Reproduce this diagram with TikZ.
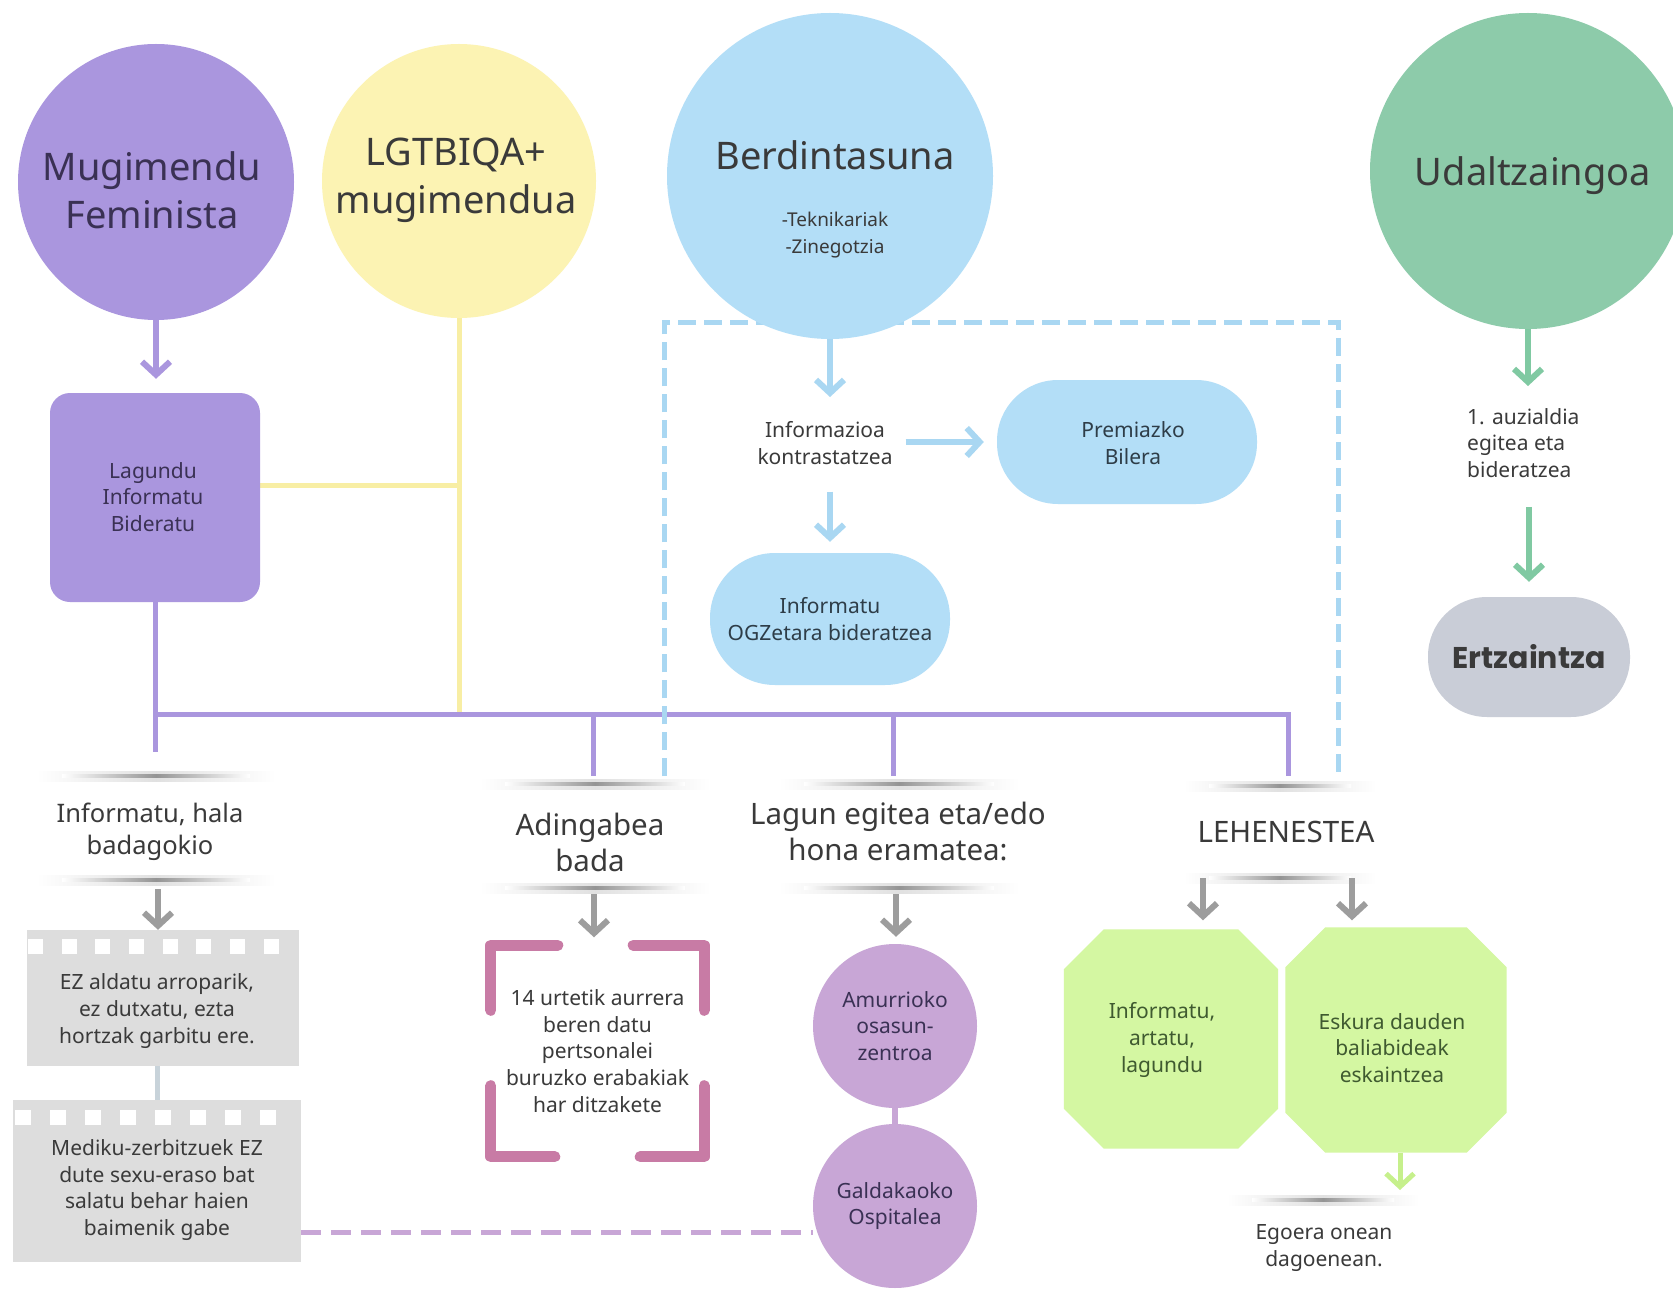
\documentclass[tikz,border=0pt]{standalone}
\usepackage{fontspec}
\setmainfont{Noto Sans}
\newfontfamily\geofont{Poppins}
\usetikzlibrary{arrows.meta,calc}
\pgfdeclarelayer{bottom}
\pgfdeclarelayer{background}
\pgfsetlayers{bottom,background,main}

\definecolor{cpur}{HTML}{AA96DE}
\definecolor{cpurtext}{HTML}{3A3154}
\definecolor{cyel}{HTML}{FCF3B3}
\definecolor{cyelline}{HTML}{F8EEA4}
\definecolor{cblue}{HTML}{B3DEF7}
\definecolor{cblueline}{HTML}{A9D7F2}
\definecolor{cgreen}{HTML}{8DCBAA}
\definecolor{cgreenarr}{HTML}{80C9A2}
\definecolor{cert}{HTML}{C9CDD7}
\definecolor{cgrayarr}{HTML}{9D9D9D}
\definecolor{cfilm}{HTML}{DDDDDD}
\definecolor{cconn}{HTML}{C8D3DA}
\definecolor{cpink}{HTML}{C87BA5}
\definecolor{clpur}{HTML}{C8A6D6}
\definecolor{clime}{HTML}{D4F7A2}
\definecolor{climearr}{HTML}{C6F08C}
\definecolor{cdark}{HTML}{3A3A3A}
\definecolor{cgtext}{HTML}{3F5A30}
\definecolor{cbtext}{HTML}{2E3D48}

\newcommand\hdrline[3]{%
  \shade[left color=white,right color=white,middle color=black!12] (#1,#3-5) rectangle (#2,#3+5);
  \shade[left color=white,right color=white,middle color=black!42] (#1+25,#3-1.5) rectangle (#2-25,#3+1.5);}
\newcommand\octfill[2]{%
  \fill[clime] ($(#1.north west)+(#2,0)$) -- ($(#1.north east)+(-#2,0)$) -- ($(#1.north east)+(0,#2)$) -- ($(#1.south east)+(0,-#2)$) -- ($(#1.south east)+(-#2,0)$) -- ($(#1.south west)+(#2,0)$) -- ($(#1.south west)+(0,-#2)$) -- ($(#1.north west)+(0,#2)$) -- cycle;}

\begin{document}
\begin{tikzpicture}[x=1pt,y=-1pt,
  txt/.style={text=cdark,align=center,inner sep=0pt},
  bigtxt/.style={txt,font=\fontsize{38}{48}\selectfont},
  smalltxt/.style={txt,font=\fontsize{21}{26.7}\selectfont},
  headtxt/.style={txt,font=\fontsize{29.5}{36}\selectfont},
  medtxt/.style={txt,font=\fontsize{25.5}{32}\selectfont},
  bigcirc/.style={circle,inner sep=0pt,draw=none},
  tipped/.style={line width=6pt,-{Straight Barb[length=13pt,width=28pt]}},
  parrow/.style={tipped,draw=cpur},
  barrow/.style={tipped,draw=cblueline},
  garrow/.style={tipped,draw=cgreenarr},
  grarrow/.style={tipped,draw=cgrayarr},
  larrow/.style={tipped,draw=climearr,line width=5pt},
  pline/.style={draw=cpur,line width=5pt},
  yline/.style={draw=cyelline,line width=5pt},
  bdash/.style={draw=cblueline,line width=5pt,dash pattern=on 18pt off 8pt},
  pdash/.style={draw=clpur,line width=5pt,dash pattern=on 20pt off 10pt},
  bracket/.style={draw=cpink,line width=11pt,line cap=round,line join=round},
]
\useasboundingbox (0,0) rectangle (1673,1289);
\begin{pgfonlayer}{bottom}
  \fill[white] (0,0) rectangle (1673,1289);
\end{pgfonlayer}

% ---- top circles
\node[bigcirc,fill=cpur,minimum size=276pt] (mf) at (156,182) {};
\node[bigtxt,text=cpurtext] (mft) at (152,190) {Mugimendu\\Feminista};
\node[bigcirc,fill=cyel,minimum size=274pt] (lg) at (459,181) {};
\node[bigtxt] (lgt) at (456,180) {LGTBIQA+\\mugimendua};
\node[bigcirc,fill=cblue,minimum size=326pt] (be) at (830,176) {};
\node[bigtxt] (bet) at (835,155) {Berdintasuna};
\node[txt,font=\fontsize{19}{27}\selectfont] (bes) at (835,235) {-Teknikariak\\-Zinegotzia};
\node[bigcirc,fill=cgreen,minimum size=316pt] (ud) at (1528,171) {};
\node[bigtxt] (udt) at (1533,176) {Udaltzaingoa};

% ---- middle
\node[rectangle,rounded corners=20pt,fill=cpur,minimum width=210pt,minimum height=209pt,inner sep=0pt] (lag) at (155,497.5) {};
\node[smalltxt,text=cpurtext] (lagt) at (153,497) {Lagundu\\Informatu\\Bideratu};
\node[smalltxt] (inf) at (825,443) {Informazioa\\kontrastatzea};
\node[rectangle,rounded corners=61pt,fill=cblue,minimum width=260pt,minimum height=124pt,inner sep=0pt] (pre) at (1127,442) {};
\node[smalltxt,text=cbtext] (pret) at (1133,443) {Premiazko\\Bilera};
\node[rectangle,rounded corners=65pt,fill=cblue,minimum width=240pt,minimum height=132pt,smalltxt,text=cbtext] (ogz) at (830,619) {Informatu\\OGZetara bideratzea};
\node[smalltxt,align=left,anchor=west] (aux) at (1467,443) {1. auzialdia\\egitea eta\\bideratzea};
\node[rectangle,rounded corners=59pt,fill=cert,minimum width=202pt,minimum height=120pt,inner sep=0pt,text=cdark,font=\geofont\bfseries\fontsize{30}{36}\selectfont] (ert) at (1529,657) {Ertzaintza};

% ---- headers
\node[medtxt] (h1) at (150,832) {Informatu, hala\\badagokio};
\node[headtxt] (h2) at (590,842) {Adingabea\\bada};
\node[headtxt] (h3) at (898,831) {Lagun egitea eta/edo\\hona eramatea:};
\node[headtxt] (h4) at (1286,832) {LEHENESTEA};
\node[smalltxt] (eg) at (1324,1248) {Egoera onean\\dagoenean.};

% ---- bottom
\node[rectangle,fill=cfilm,minimum width=272pt,minimum height=136pt,inner sep=0pt] (fb1) at (163,998) {};
\node[smalltxt] (fb1t) at (157,1011) {EZ aldatu arroparik,\\ez dutxatu, ezta\\hortzak garbitu ere.};
\node[rectangle,fill=cfilm,minimum width=288pt,minimum height=162pt,inner sep=0pt] (fb2) at (157,1181) {};
\node[smalltxt] (fb2t) at (157,1190) {Mediku-zerbitzuek EZ\\dute sexu-eraso bat\\salatu behar haien\\baimenik gabe};
\foreach \k in {0,...,7} \fill[white] ($(fb1.north west)+({1+33.7*\k},9)$) rectangle ++(15,15);
\foreach \k in {0,...,7} \fill[white] ($(fb2.north west)+({2+35*\k},10)$) rectangle ++(16,15);

\node[smalltxt,minimum width=225pt,minimum height=223pt] (br) at (597.5,1051) {14 urtetik aurrera\\beren datu\\pertsonalei\\buruzko erabakiak\\har ditzakete};
\draw[bracket] ($(br.north west)+(6,71)$) -- ($(br.north west)+(6,6)$) -- ($(br.north west)+(73,6)$);
\draw[bracket] ($(br.north east)+(-77,6)$) -- ($(br.north east)+(-6,6)$) -- ($(br.north east)+(-6,71)$);
\draw[bracket] ($(br.south west)+(6,-77)$) -- ($(br.south west)+(6,-6)$) -- ($(br.south west)+(70,-6)$);
\draw[bracket] ($(br.south east)+(-6,-77)$) -- ($(br.south east)+(-6,-6)$) -- ($(br.south east)+(-70,-6)$);

\node[bigcirc,fill=clpur,minimum size=164pt,smalltxt,text=cpurtext] (am) at (895,1026) {Amurrioko\\osasun-\\zentroa};
\node[bigcirc,fill=clpur,minimum size=164pt,smalltxt,text=cpurtext] (gal) at (895,1206) {Galdakaoko\\Ospitalea};

\node[minimum width=214pt,minimum height=219pt,inner sep=0pt] (oct1) at (1171,1039) {};
\node[smalltxt,text=cgtext] (oct1t) at (1162,1040) {Informatu,\\artatu,\\lagundu};
\node[minimum width=221pt,minimum height=225pt,inner sep=0pt] (oct2) at (1396,1040) {};
\node[smalltxt,text=cgtext] (oct2t) at (1392,1048) {Eskura dauden\\baliabideak\\eskaintzea};

% ---- coordinates
\coordinate (busR) at (1288,714);
\coordinate (d0) at (155,752);
\coordinate (d1) at (593,776);
\coordinate (d2) at (893,776);
\coordinate (d3) at (1288,776);
\coordinate (yj) at (460,485);
\coordinate (bxTL) at (664,322);
\coordinate (bxTR) at (1338,322);
\coordinate (bxBL) at (664,776);
\coordinate (bxBR) at (1338,776);
\coordinate (inftop) at (830,397);
\coordinate (h1bot) at (158,880);
\coordinate (h2bot) at (594,888);
\coordinate (h3bot) at (896,888);
\coordinate (h4a) at (1203,878);
\coordinate (h4b) at (1352,878);
\coordinate (h5top) at (1400,1200);
\coordinate (dy) at (0,1232);

\begin{pgfonlayer}{background}
  \octfill{oct1}{40}
  \octfill{oct2}{40}
  \hdrline{37}{275}{776}
  \hdrline{37}{275}{880}
  \hdrline{480}{710}{784}
  \hdrline{480}{710}{888}
  \hdrline{779}{1019}{784}
  \hdrline{779}{1019}{888}
  \hdrline{1184}{1376}{786}
  \hdrline{1184}{1376}{878}
  \hdrline{1227}{1419}{1200}
  % yellow
  \draw[yline] (lg.south) -- (lg.south |- busR);
  \draw[yline] (lag.east |- yj) -- (lg.south |- yj);
  % purple
  \draw[parrow,shorten >=14pt] (mf.south) -- (mf.south |- lag.north);
  \draw[pline] (lag.south) -- (d0);
  \draw[pline] (lag.south |- busR) -- (busR) -- (d3);
  \draw[pline] (d1 |- busR) -- (d1);
  \draw[pline] (d2 |- busR) -- (d2);
  % blue
  \draw[bdash] (bxBL) -- (bxTL) -- (bxTR) -- (bxBR);
  \draw[barrow] (be.south) -- (inftop);
  \draw[barrow,shorten <=13pt,shorten >=13pt] (inf.east |- pre.west) -- (pre.west);
  \draw[barrow,shorten <=27pt,shorten >=11pt] (inf.south -| ogz.north) -- (ogz.north);
  % green
  \draw[garrow,shorten >=22pt] (ud.south) -- (ud.south |- aux.north);
  \draw[garrow,shorten <=29pt,shorten >=15pt] (aux.south -| ert.north) -- (ert.north);
  % gray
  \draw[grarrow,shorten <=9pt] (h1bot) -- (h1bot |- fb1.north);
  \draw[grarrow,shorten <=6pt,shorten >=2pt] (h2bot) -- (h2bot |- br.north);
  \draw[grarrow,shorten <=6pt,shorten >=7pt] (h3bot) -- (h3bot |- am.north);
  \draw[grarrow,shorten >=9pt] (h4a) -- (h4a |- oct1.north);
  \draw[grarrow,shorten >=7pt] (h4b) -- (h4b |- oct2.north);
  \draw[larrow,shorten >=10pt] (oct2.south -| h5top) -- (h5top);
  % others
  \draw[draw=cconn,line width=5pt] (fb2.north |- fb1.south) -- (fb2.north);
  \draw[draw=clpur,line width=6pt] (am.south) -- (gal.north);
  \draw[pdash] (fb2.east |- dy) -- (gal.west |- dy);
\end{pgfonlayer}
\end{tikzpicture}
\end{document}
